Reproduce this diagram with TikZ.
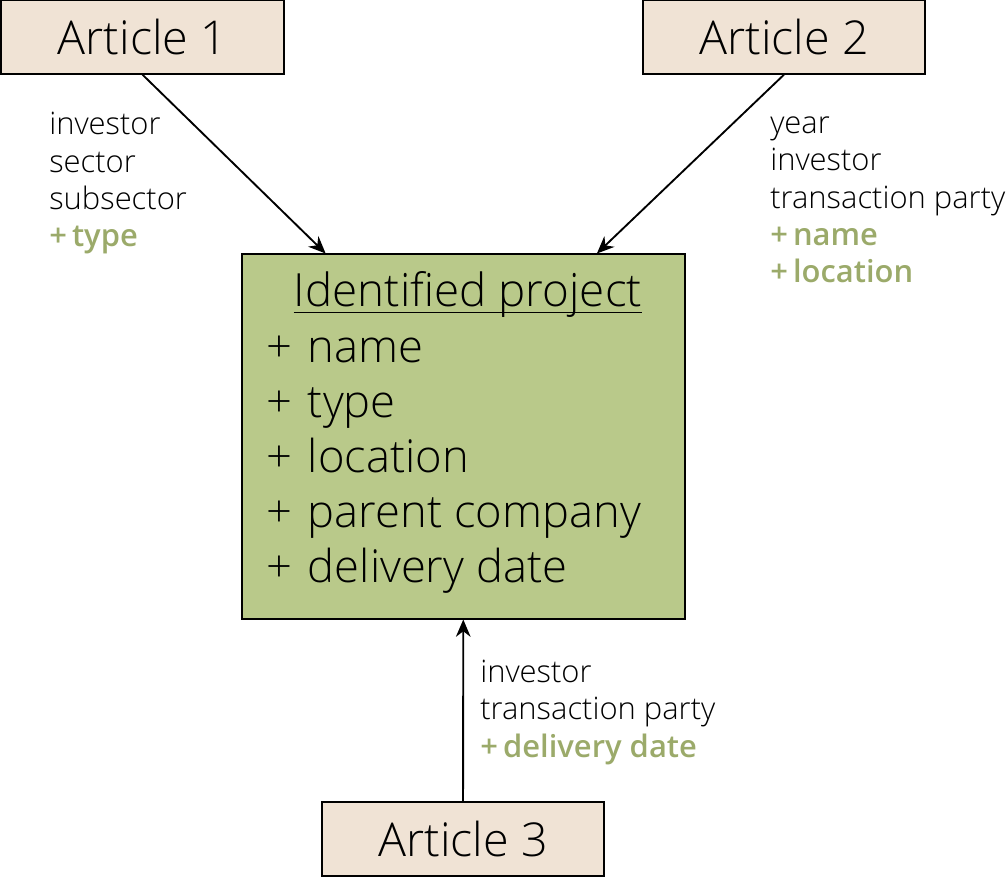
\documentclass[tikz,border=0pt]{standalone}
\usepackage{fontspec}
\setmainfont{Open Sans}[UprightFont=* Light]
\usetikzlibrary{positioning,calc,arrows.meta}
\definecolor{articlefill}{RGB}{240,227,213}
\definecolor{projectfill}{RGB}{185,201,138}
\definecolor{addgreen}{RGB}{155,170,106}
\newcommand{\added}[1]{\textcolor{addgreen}{\textbf{#1}}}
\newcommand{\attr}{+\kern3pt\ }
\begin{document}
\begin{tikzpicture}[x=0.75pt,y=-0.75pt,
  article/.style={draw, line width=1.5pt, fill=articlefill, minimum width=212pt, minimum height=55pt, font=\fontsize{35}{42}\selectfont},
  project/.style={draw, line width=1.5pt, fill=projectfill, minimum width=332pt, minimum height=273pt},
  note/.style={align=left, inner sep=0pt, font=\fontsize{23.2}{28}\selectfont},
  link/.style={-{Stealth[length=13pt,width=11pt]}, line width=1.4pt}]
\useasboundingbox (0,0) rectangle (1007,877);
% sources and target
\node[article] (art1) at (142.5,37) {Article 1};
\node[article] (art2) at (784,37) {Article 2};
\node[article] (art3) at (463,839) {Article 3};
\node[project] (proj) at (463.5,436.5) {};
\node[inner sep=0pt, anchor=base, font=\fontsize{34.3}{42}\selectfont] (title) at (468,307) {Identified project\ };
\draw[line width=1.2pt] ([yshift=-4pt]title.base west) -- ([yshift=-4pt]title.base east);
\node[inner sep=0pt, anchor=base west, align=left, font=\fontsize{34}{41.25}\selectfont] (attrs) at (266,582)
  {\attr name\\\attr type\\\attr location\\\attr parent company\\\attr delivery date};
% what each article adds
\node[note, anchor=base west] (note1) at (49,247) {investor\\sector\\subsector\\\added{+\,type}};
\node[note, anchor=base west] (note2) at (770,283) {year\\investor\\transaction party\\\added{+\,name}\\\added{+\,location}};
\node[note, anchor=base west] (note3) at (480,757) {investor\\transaction party\\\added{+\,delivery date}};
\coordinate (in1) at ($(proj.north west)!0.19!(proj.north east)$);
\coordinate (in2) at ($(proj.north west)!0.80!(proj.north east)$);
\draw[link] (art1.south) -- (in1);
\draw[link] (art2.south) -- (in2);
\draw[link] (art3) -- (proj);
\end{tikzpicture}
\end{document}
